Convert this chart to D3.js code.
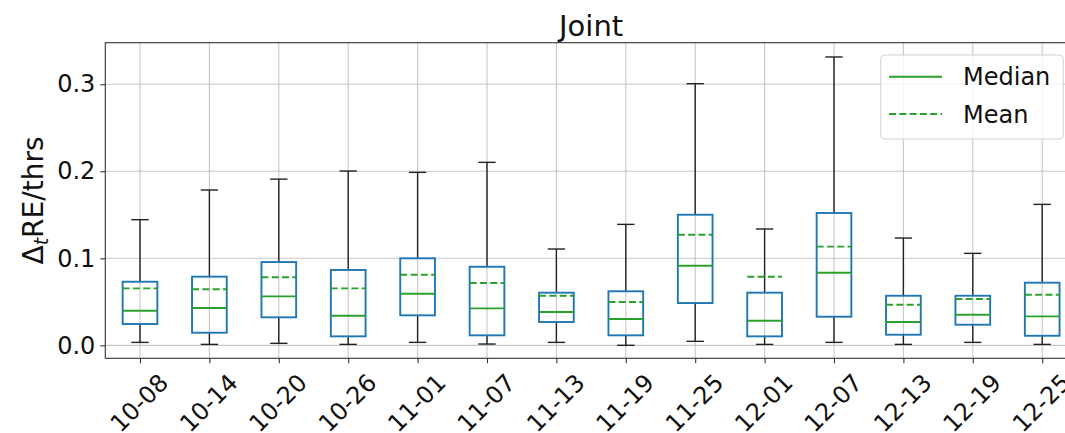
<!DOCTYPE html>
<html>
<head>
<meta charset="utf-8">
<script src="https://cdn.jsdelivr.net/npm/d3@7"></script>
<style>
  body { margin: 0; background: #fff; }
  svg { display: block; font-family: "DejaVu Sans", sans-serif; }
</style>
</head>
<body>
<svg id="chart" width="1065" height="433"></svg>
<script>
// dates on the x axis
var labels = ["10-08", "10-14", "10-20", "10-26", "11-01", "11-07", "11-13",
              "11-19", "11-25", "12-01", "12-07", "12-13", "12-19", "12-25"];

// box stats
var whiskerLow  = [0.0034, 0.0011, 0.0023, 0.0011, 0.0034, 0.0015, 0.0034,
                   0.0000, 0.0046, 0.0011, 0.0034, 0.0011, 0.0034, 0.0011];
var q1          = [0.0245, 0.0145, 0.0322, 0.0103, 0.0345, 0.0115, 0.0268,
                   0.0115, 0.0486, 0.0103, 0.0329, 0.0122, 0.0237, 0.0110];
var medians     = [0.0398, 0.0429, 0.0563, 0.0340, 0.0593, 0.0425, 0.0383,
                   0.0302, 0.0915, 0.0283, 0.0835, 0.0268, 0.0352, 0.0333];
var q3          = [0.0731, 0.0789, 0.0957, 0.0866, 0.1000, 0.0903, 0.0605,
                   0.0621, 0.1501, 0.0605, 0.1521, 0.0570, 0.0570, 0.0720];
var whiskerHigh = [0.1444, 0.1785, 0.1910, 0.2003, 0.1988, 0.2103, 0.1107,
                   0.1390, 0.3007, 0.1337, 0.3314, 0.1233, 0.1057, 0.1620];
var means       = [0.0655, 0.0644, 0.0782, 0.0655, 0.0812, 0.0716, 0.0570,
                   0.0498, 0.1271, 0.0789, 0.1134, 0.0467, 0.0532, 0.0582];

var yTicks = [0.0, 0.1, 0.2, 0.3];

var axLeft = 105.3, axRight = 1076.9, axTop = 42.7, axBottom = 358.3;
var blue = "#1f77b4", green = "#2ca02c";

var svg = d3.select("#chart");

var x = d3.scaleLinear().domain([0.5, labels.length + 0.5]).range([axLeft, axRight]);
var y = d3.scaleLinear().domain([-0.0149, 0.3478]).range([axBottom, axTop]);
var step = x(2) - x(1);
var boxW = step * 0.5;
var capW = boxW * 0.5;

// grid
svg.append("g").selectAll("line").data(yTicks).join("line")
  .attr("x1", axLeft).attr("x2", axRight)
  .attr("y1", d => y(d)).attr("y2", d => y(d))
  .attr("stroke", "#b0b0b0").attr("stroke-opacity", 0.7).attr("stroke-width", 1.1);
svg.append("g").selectAll("line").data(labels).join("line")
  .attr("x1", (d, i) => x(i + 1)).attr("x2", (d, i) => x(i + 1))
  .attr("y1", axTop).attr("y2", axBottom)
  .attr("stroke", "#b0b0b0").attr("stroke-opacity", 0.7).attr("stroke-width", 1.1);

// boxes
var g = svg.append("g").selectAll("g").data(labels).join("g")
  .attr("transform", (d, i) => "translate(" + x(i + 1) + ",0)");

g.append("line") // lower whisker
  .attr("x1", 0).attr("x2", 0)
  .attr("y1", (d, i) => y(q1[i])).attr("y2", (d, i) => y(whiskerLow[i]))
  .attr("stroke", "#222").attr("stroke-width", 1.4);
g.append("line") // upper whisker
  .attr("x1", 0).attr("x2", 0)
  .attr("y1", (d, i) => y(q3[i])).attr("y2", (d, i) => y(whiskerHigh[i]))
  .attr("stroke", "#222").attr("stroke-width", 1.4);
g.append("line")
  .attr("x1", -capW / 2).attr("x2", capW / 2)
  .attr("y1", (d, i) => y(whiskerLow[i])).attr("y2", (d, i) => y(whiskerLow[i]))
  .attr("stroke", "#222").attr("stroke-width", 1.4);
g.append("line")
  .attr("x1", -capW / 2).attr("x2", capW / 2)
  .attr("y1", (d, i) => y(whiskerHigh[i])).attr("y2", (d, i) => y(whiskerHigh[i]))
  .attr("stroke", "#222").attr("stroke-width", 1.4);

g.append("rect")
  .attr("x", -boxW / 2).attr("width", boxW)
  .attr("y", (d, i) => y(q3[i]))
  .attr("height", (d, i) => y(q1[i]) - y(q3[i]))
  .attr("fill", "none").attr("stroke", blue).attr("stroke-width", 1.9);

g.append("line")
  .attr("x1", -boxW / 2).attr("x2", boxW / 2)
  .attr("y1", (d, i) => y(medians[i])).attr("y2", (d, i) => y(medians[i]))
  .attr("stroke", green).attr("stroke-width", 1.9);
g.append("line")
  .attr("x1", -boxW / 2).attr("x2", boxW / 2)
  .attr("y1", (d, i) => y(means[i])).attr("y2", (d, i) => y(means[i]))
  .attr("stroke", green).attr("stroke-width", 1.9)
  .attr("stroke-dasharray", "7,3.3");

// frame
svg.append("rect")
  .attr("x", axLeft).attr("y", axTop)
  .attr("width", axRight - axLeft).attr("height", axBottom - axTop)
  .attr("fill", "none").attr("stroke", "#333").attr("stroke-width", 1.1);

// y axis
var yAxis = svg.append("g")
  .attr("transform", "translate(" + axLeft + ",0)")
  .call(d3.axisLeft(y).tickValues(yTicks).tickFormat(d3.format(".1f")).tickSize(5).tickPadding(5));
yAxis.select(".domain").remove();
yAxis.selectAll("line").attr("stroke", "#333").attr("stroke-width", 1.1);
yAxis.selectAll("text").attr("font-size", 24).attr("fill", "#111")
  .attr("font-family", "DejaVu Sans");

// x axis
var xAxis = svg.append("g")
  .attr("transform", "translate(0," + axBottom + ")")
  .call(d3.axisBottom(x).tickValues(d3.range(1, labels.length + 1))
    .tickFormat(d => labels[d - 1]).tickSize(5).tickPadding(0));
xAxis.select(".domain").remove();
xAxis.selectAll("line").attr("stroke", "#333").attr("stroke-width", 1.1);
xAxis.selectAll("text")
  .attr("font-size", 24).attr("fill", "#111").attr("font-family", "DejaVu Sans")
  .attr("text-anchor", "middle").attr("dominant-baseline", "central")
  .attr("y", 0).attr("dy", null)
  .attr("transform", "translate(-1,45) rotate(-45)");

// title and y label
svg.append("text")
  .attr("x", (axLeft + axRight) / 2).attr("y", 36)
  .attr("text-anchor", "middle").attr("font-size", 29).attr("fill", "#111")
  .text("Joint");

var yl = svg.append("text")
  .attr("transform", "translate(43," + ((axTop + axBottom) / 2) + ") rotate(-90)")
  .attr("text-anchor", "middle").attr("font-size", 28).attr("fill", "#111");
yl.append("tspan").text("\u0394");
yl.append("tspan").attr("font-size", 19).attr("font-style", "italic").attr("dy", 5).text("t");
yl.append("tspan").attr("dy", -5).text("RE/thrs");

// legend
var leg = svg.append("g");
leg.append("rect")
  .attr("x", 880.7).attr("y", 55).attr("width", 182.6).attr("height", 84)
  .attr("rx", 4).attr("fill", "#fff").attr("fill-opacity", 0.8)
  .attr("stroke", "#d0d0d0").attr("stroke-width", 1);
var legItems = [{ name: "Median", dash: null, y: 76.7 }, { name: "Mean", dash: "7,3.3", y: 114 }];
leg.selectAll("line").data(legItems).join("line")
  .attr("x1", 889).attr("x2", 942)
  .attr("y1", d => d.y).attr("y2", d => d.y)
  .attr("stroke", green).attr("stroke-width", 1.9)
  .attr("stroke-dasharray", d => d.dash);
leg.selectAll("text").data(legItems).join("text")
  .attr("x", 963).attr("y", d => d.y + 8.5)
  .attr("font-size", 24).attr("fill", "#111")
  .text(d => d.name);
</script>
</body>
</html>
